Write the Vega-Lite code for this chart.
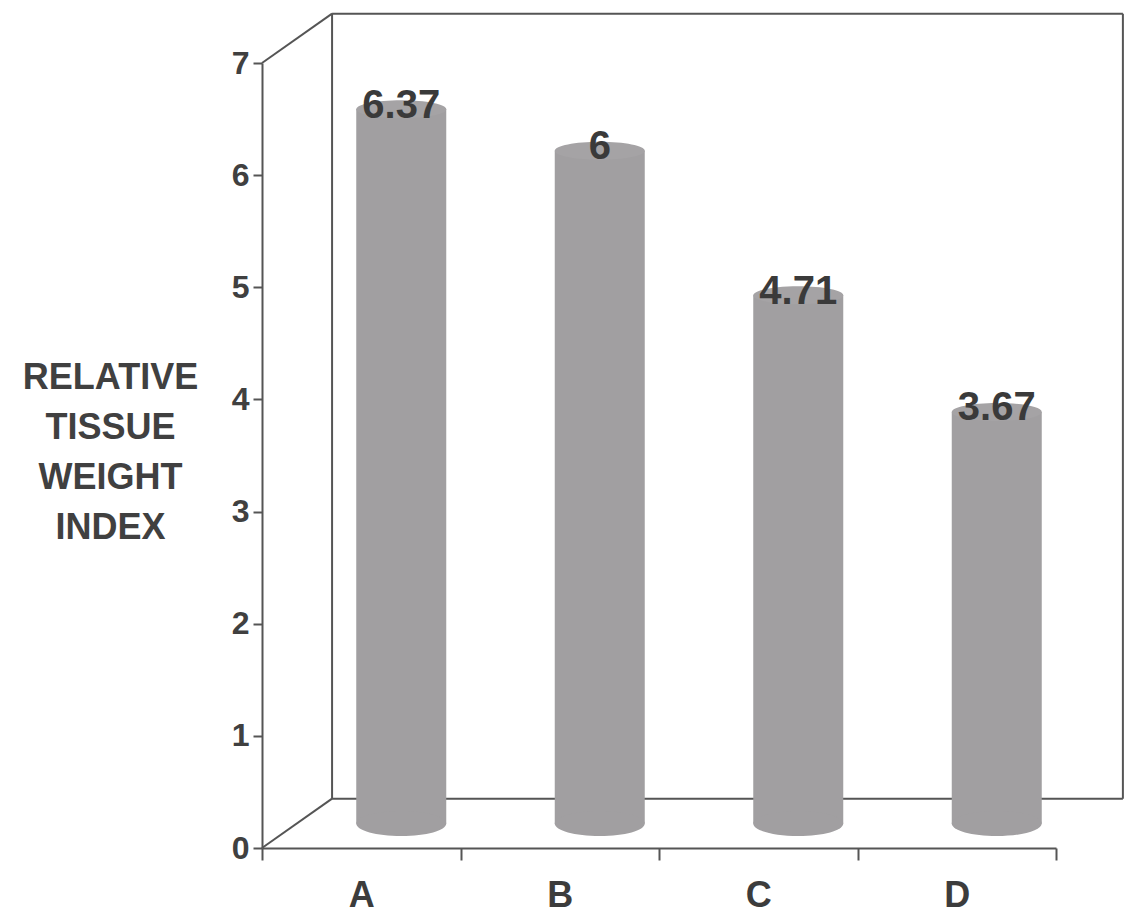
{
  "$schema": "https://vega.github.io/schema/vega-lite/v6.json",
  "width": 794,
  "height": 785,
  "autosize": {"type": "none"},
  "padding": {"left": 262, "top": 63, "right": 68, "bottom": 74},
  "background": "white",
  "config": {
    "view": {"stroke": null},
    "font": "Liberation Sans",
    "axisY": {
      "format": "d", "grid": false,
      "labelFont": "Liberation Sans", "labelFontSize": 32, "labelFontWeight": "bold", "labelColor": "#404040",
      "labelPadding": 4, "tickSize": 9, "tickColor": "#555555", "tickWidth": 2,
      "domainColor": "#555555", "domainWidth": 2,
      "titleAngle": 0, "titleAlign": "center", "titleBaseline": "middle",
      "titleX": -152, "titleY": 314, "titleLineHeight": 50,
      "titleFont": "Liberation Sans", "titleFontSize": 36, "titleFontWeight": "bold", "titleColor": "#404040"
    }
  },
  "datasets": {
    "bars": [
      {"group": "A", "value": 6.37},
      {"group": "B", "value": 6},
      {"group": "C", "value": 4.71},
      {"group": "D", "value": 3.67}
    ],
    "wall": [
      {"x": 0, "y": 7, "x2": 0.353, "y2": 7.44},
      {"x": 0.353, "y": 0.44, "x2": 0.353, "y2": 7.44},
      {"x": 0.353, "y": 7.44, "x2": 4.337, "y2": 7.44},
      {"x": 0, "y": 0, "x2": 0.353, "y2": 0.44},
      {"x": 0.353, "y": 0.44, "x2": 4.337, "y2": 0.44},
      {"x": 4.337, "y": 0.44, "x2": 4.337, "y2": 7.44}
    ]
  },
  "resolve": {"scale": {"x": "independent"}},
  "layer": [
    {
      "data": {"name": "wall"},
      "mark": {"type": "rule", "color": "#555555", "strokeWidth": 2},
      "encoding": {
        "x": {"field": "x", "type": "quantitative", "scale": {"domain": [0, 4], "nice": false, "zero": false}, "axis": null},
        "x2": {"field": "x2"},
        "y": {"field": "y", "type": "quantitative", "scale": {"domain": [0, 7], "nice": false},
          "axis": {"values": [0, 1, 2, 3, 4, 5, 6, 7], "title": ["RELATIVE", "TISSUE", "WEIGHT", "INDEX"]}},
        "y2": {"field": "y2"}
      }
    },
    {
      "data": {"name": "bars"},
      "encoding": {
        "x": {
          "field": "group", "type": "nominal", "sort": null,
          "scale": {"type": "band", "paddingInner": 0, "paddingOuter": 0},
          "axis": {
            "title": null, "labelAngle": 0, "tickBand": "extent",
            "labelFont": "Liberation Sans", "labelFontSize": 36, "labelFontWeight": "bold", "labelColor": "#3c3c3c",
            "labelPadding": 18, "tickSize": 12, "tickColor": "#555555", "tickWidth": 2,
            "domainColor": "#555555", "domainWidth": 2
          }
        }
      },
      "layer": [
        {
          "mark": {"type": "bar", "width": 90, "color": "#a19fa1", "xOffset": 40, "x2Offset": 40, "yOffset": -24.5, "y2Offset": -24.5},
          "encoding": {
            "y": {
              "field": "value", "type": "quantitative",
              "scale": {"domain": [0, 7], "nice": false},
              "axis": {"values": [0, 1, 2, 3, 4, 5, 6, 7], "title": ["RELATIVE", "TISSUE", "WEIGHT", "INDEX"]}
            }
          }
        },
        {
          "mark": {"type": "point", "filled": true, "opacity": 1, "color": "#a19fa1", "strokeWidth": 0, "size": 8100, "xOffset": 40, "yOffset": -24.5,
            "shape": "M -1 0 A 1 0.28 0 1 0 1 0 A 1 0.28 0 1 0 -1 0 Z"},
          "encoding": {
            "y": {"datum": 0, "type": "quantitative"}
          }
        },
        {
          "mark": {"type": "point", "filled": true, "opacity": 1, "color": "#a5a3a5", "strokeWidth": 0, "size": 8100, "xOffset": 40, "yOffset": -24.5,
            "shape": "M -1 0 A 1 0.2 0 1 0 1 0 A 1 0.2 0 1 0 -1 0 Z"},
          "encoding": {
            "y": {"field": "value", "type": "quantitative"}
          }
        },
        {
          "mark": {"type": "text", "font": "Liberation Sans", "fontSize": 40, "fontWeight": "bold", "color": "#3a3a3a", "baseline": "alphabetic", "align": "center", "xOffset": 40, "dy": -16},
          "encoding": {
            "y": {"field": "value", "type": "quantitative"},
            "text": {"field": "value", "type": "quantitative", "format": ".3~f"}
          }
        }
      ]
    }
  ]
}
